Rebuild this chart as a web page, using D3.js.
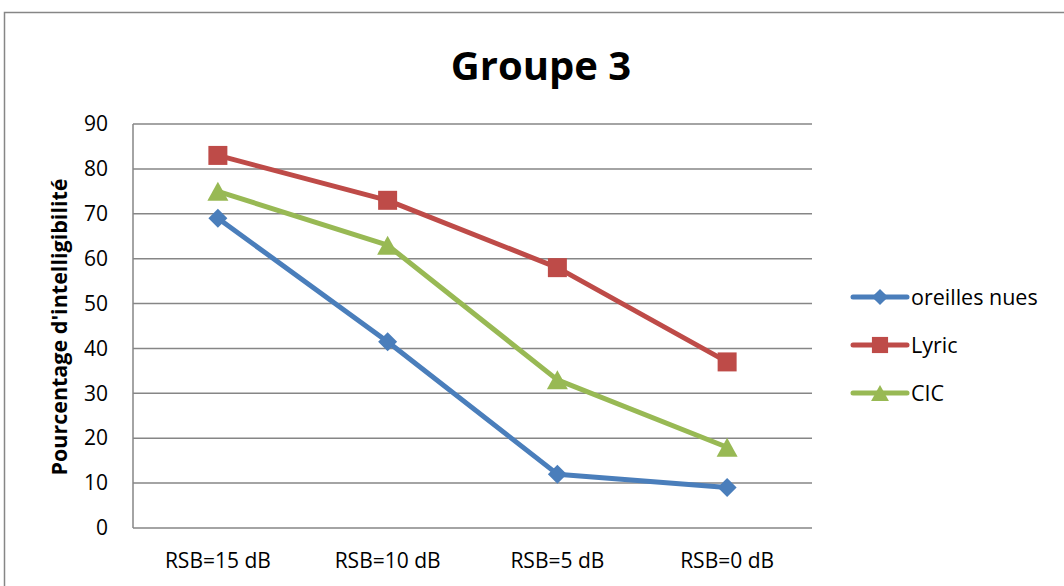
<!DOCTYPE html>
<html>
<head>
<meta charset="utf-8">
<script src="https://cdn.jsdelivr.net/npm/d3@7"></script>
<style>
  body { margin: 0; background: #fff; }
  text { font-family: "Open Sans", "Noto Sans", sans-serif; fill: #000; }
</style>
</head>
<body>
<svg id="chart" width="1064" height="586"></svg>
<script>
// data
const categories = ["RSB=15 dB", "RSB=10 dB", "RSB=5 dB", "RSB=0 dB"];
const seriesNames = ["oreilles nues", "Lyric", "CIC"];
const oreillesNues = [69, 41.5, 12, 9];
const lyric = [83, 73, 58, 37];
const cic = [75, 63, 33, 18];
const yTicks = [0, 10, 20, 30, 40, 50, 60, 70, 80, 90];

const colors = ["#4a7ebb", "#be4b48", "#98b954"];
const symbols = ["diamond", "square", "triangle"];
const datasets = [oreillesNues, lyric, cic].map((vals, i) => ({
  name: seriesNames[i],
  color: colors[i],
  symbol: symbols[i],
  data: vals.map((v, j) => ({ name: categories[j], value: v }))
}));

// marker shapes (Excel-like)
function markerPath(type, k) {
  k = k || 1;
  if (type === "diamond") {
    const r = 9.5 * k;
    return `M0,${-r}L${r},0L0,${r}L${-r},0Z`;
  }
  if (type === "square") {
    const r = 9.5 * k;
    return `M${-r},${-r}H${r}V${r}H${-r}Z`;
  }
  const w = 10.5 * k, h = 9.5 * k;
  return `M0,${-h}L${w},${h}L${-w},${h}Z`;
}

const svg = d3.select("#chart");
const margin = { left: 133, right: 1064 - 812, top: 124, bottom: 586 - 528 };
const width = 1064, height = 586;

// outer frame
svg.append("rect")
  .attr("x", 4.5).attr("y", 12.5)
  .attr("width", 1070).attr("height", 600)
  .attr("fill", "none").attr("stroke", "#868686").attr("stroke-width", 1.5);

const x = d3.scaleBand()
  .domain(categories)
  .range([margin.left, width - margin.right]);
const y = d3.scaleLinear()
  .domain([0, 90])
  .range([height - margin.bottom, margin.top]);

// grid
svg.append("g")
  .selectAll("line")
  .data(yTicks)
  .enter().append("line")
  .attr("x1", margin.left).attr("x2", width - margin.right)
  .attr("y1", d => y(d)).attr("y2", d => y(d))
  .attr("stroke", "#868686").attr("stroke-width", 1.5);

svg.append("line")
  .attr("x1", margin.left).attr("x2", margin.left)
  .attr("y1", y(0)).attr("y2", y(90))
  .attr("stroke", "#868686").attr("stroke-width", 1.5);

// y ticks
const yAxis = svg.append("g")
  .attr("transform", `translate(${margin.left},0)`)
  .call(d3.axisLeft(y).tickValues(yTicks).tickSize(0).tickPadding(25));
yAxis.select(".domain").remove();
yAxis.selectAll("text")
  .style("font-size", "21px")
  .style("font-family", "'Open Sans', sans-serif");

// x ticks
const xAxis = svg.append("g")
  .attr("transform", `translate(0,${y(0)})`)
  .call(d3.axisBottom(x).tickSize(0).tickPadding(25));
xAxis.select(".domain").remove();
xAxis.selectAll("text")
  .style("font-size", "21px")
  .style("font-family", "'Open Sans', sans-serif");

// title
svg.append("text")
  .attr("x", 541).attr("y", 80)
  .attr("text-anchor", "middle")
  .style("font-size", "40px").style("font-weight", "bold")
  .text("Groupe 3");

// y label
svg.append("text")
  .attr("transform", "translate(67,327) rotate(-90)")
  .attr("text-anchor", "middle")
  .style("font-size", "21.5px").style("font-weight", "bold")
  .text("Pourcentage d'intelligibilité");

// lines
const line = d3.line()
  .x(d => x(d.name) + x.bandwidth() / 2)
  .y(d => y(d.value));

const slice = svg.selectAll(".slice")
  .data(datasets)
  .enter().append("g")
  .attr("class", "slice");

slice.append("path")
  .attr("d", d => line(d.data))
  .attr("fill", "none")
  .attr("stroke", d => d.color)
  .attr("stroke-width", 5)
  .attr("stroke-linejoin", "round");

slice.each(function(ds) {
  d3.select(this).selectAll("path.marker")
    .data(ds.data)
    .enter().append("path")
    .attr("class", "marker")
    .attr("d", markerPath(ds.symbol))
    .attr("transform", d => `translate(${x(d.name) + x.bandwidth() / 2},${y(d.value)})`)
    .attr("fill", ds.color);
});

// legend
const legend = svg.append("g")
  .selectAll("g")
  .data(datasets)
  .enter().append("g")
  .attr("transform", (d, i) => `translate(853,${297 + i * 48})`);
legend.append("line")
  .attr("x1", 0).attr("x2", 54)
  .attr("stroke", d => d.color).attr("stroke-width", 5)
  .attr("stroke-linecap", "round");
legend.append("path")
  .attr("d", d => markerPath(d.symbol, 0.85))
  .attr("transform", "translate(27,0)")
  .attr("fill", d => d.color);
legend.append("text")
  .attr("x", 58).attr("dy", "0.35em")
  .style("font-size", "21.5px")
  .text(d => d.name);
</script>
</body>
</html>
